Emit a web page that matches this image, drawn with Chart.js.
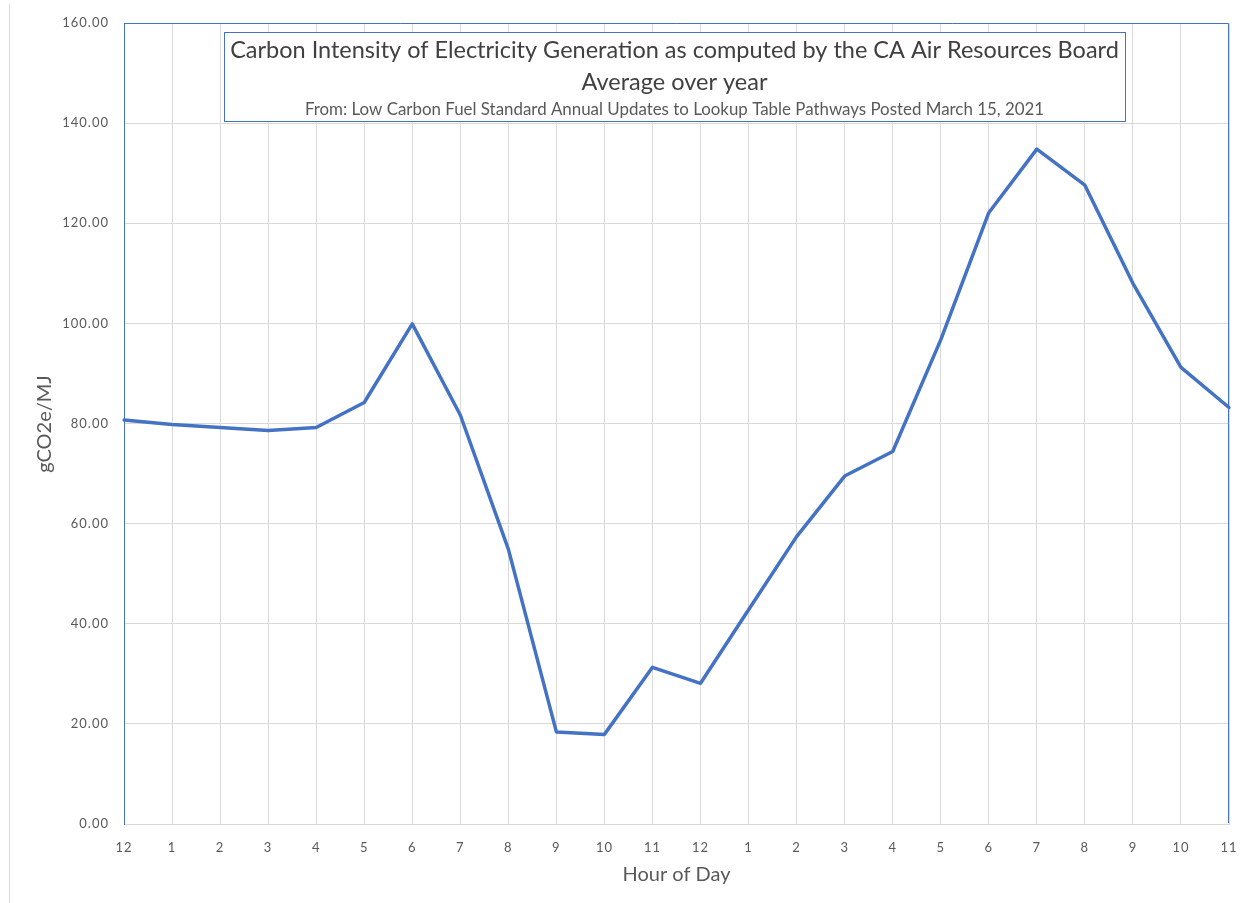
<!DOCTYPE html>
<html>
<head>
<meta charset="utf-8">
<title>Carbon Intensity of Electricity Generation</title>
<script src="https://cdn.jsdelivr.net/npm/chart.js@4/dist/chart.umd.min.js"></script>
<style>
  html, body { margin: 0; padding: 0; background: #ffffff; }
  #wrap { width: 1241px; height: 903px; position: relative; }
  canvas { display: block; }
</style>
</head>
<body>
<div id="wrap"><canvas id="chart" width="1241" height="903"></canvas></div>
<script>
// Hour-of-day labels (midnight through 11 pm)
const hourLabels = ['12', '1', '2', '3', '4', '5', '6', '7', '8', '9', '10', '11',
                    '12', '1', '2', '3', '4', '5', '6', '7', '8', '9', '10', '11'];

// Average carbon intensity per hour, gCO2e/MJ
const carbonIntensity = [80.7, 79.8, 79.2, 78.6, 79.2, 84.2, 99.9, 81.7, 54.9, 18.4, 17.9, 31.3,
                         28.1, 42.8, 57.4, 69.5, 74.4, 96.7, 122.1, 134.8, 127.6, 108.0, 91.2, 83.2];

// Value axis range
const yMin = 0;
const yMax = 160;
const yStep = 20;

// Titles
const titleLines = [
  'Carbon Intensity of Electricity Generation as computed by the CA Air Resources Board',
  'Average over year',
  'From: Low Carbon Fuel Standard Annual Updates to Lookup Table Pathways Posted March 15, 2021'
];
const xAxisTitle = 'Hour of Day';
const yAxisTitle = 'gCO2e/MJ';

const FONT = 'Lato, "Open Sans", sans-serif';
const BLUE = '#4472C4';
const GRID = '#d9d9d9';
const TICK = '#595959';

// Draws text scaled so it spans the requested width
function fitText(ctx, text, cx, cy, width, baseSize, color) {
  ctx.font = baseSize + 'px ' + FONT;
  const w = ctx.measureText(text).width;
  const size = baseSize * width / w;
  ctx.font = size + 'px ' + FONT;
  ctx.fillStyle = color;
  ctx.textAlign = 'center';
  ctx.textBaseline = 'middle';
  ctx.fillText(text, cx, cy);
}

const frame = {
  id: 'frame',
  beforeDraw(chart) {
    const ctx = chart.ctx;
    ctx.save();
    ctx.fillStyle = '#ffffff';
    ctx.fillRect(0, 0, chart.width, chart.height);
    // faint outer chart edge
    ctx.strokeStyle = '#d9d9d9';
    ctx.lineWidth = 1;
    ctx.beginPath();
    ctx.moveTo(9.5, 4);
    ctx.lineTo(9.5, chart.height);
    ctx.stroke();
    ctx.restore();
    // spaced-out tick labels
    ctx.letterSpacing = '1px';
  },
  beforeDatasetsDraw(chart) {
    const ctx = chart.ctx;
    ctx.letterSpacing = '0px';
    const a = chart.chartArea;
    ctx.save();
    ctx.strokeStyle = BLUE;
    ctx.lineWidth = 1;
    ctx.beginPath();
    ctx.moveTo(Math.round(a.left) + 0.5, Math.round(a.bottom) - 1);
    ctx.lineTo(Math.round(a.left) + 0.5, Math.round(a.top) + 0.5);
    ctx.lineTo(Math.round(a.right) - 0.5, Math.round(a.top) + 0.5);
    ctx.lineTo(Math.round(a.right) - 0.5, Math.round(a.bottom) - 1);
    ctx.stroke();
    ctx.restore();
  },
  afterDraw(chart) {
    const ctx = chart.ctx;
    ctx.letterSpacing = '0px';
    const a = chart.chartArea;
    ctx.save();
    // title box
    const bx = 224, by = 32, bw = 901, bh = 89;
    ctx.fillStyle = '#ffffff';
    ctx.fillRect(bx, by, bw, bh);
    ctx.strokeStyle = BLUE;
    ctx.lineWidth = 1;
    ctx.strokeRect(bx + 0.5, by + 0.5, bw, bh);
    const cx = bx + bw / 2;
    fitText(ctx, titleLines[0], cx, 50, 889, 22, '#404040');
    fitText(ctx, titleLines[1], cx, 82, 186, 20, '#404040');
    fitText(ctx, titleLines[2], cx, 110, 740, 14, '#595959');

    // axis titles
    ctx.font = '20px ' + FONT;
    ctx.fillStyle = '#595959';
    ctx.textAlign = 'center';
    ctx.textBaseline = 'middle';
    ctx.fillText(xAxisTitle, (a.left + a.right) / 2, 875);

    ctx.translate(45, 424);
    ctx.rotate(-Math.PI / 2);
    ctx.fillText(yAxisTitle, 0, 0);
    ctx.restore();
  }
};

new Chart(document.getElementById('chart'), {
  type: 'line',
  data: {
    labels: hourLabels,
    datasets: [{
      label: 'Carbon intensity',
      data: carbonIntensity,
      borderColor: BLUE,
      borderWidth: 3.5,
      pointRadius: 0,
      pointHoverRadius: 0,
      tension: 0,
      fill: false,
      borderJoinStyle: 'round',
      borderCapStyle: 'round'
    }]
  },
  options: {
    responsive: false,
    devicePixelRatio: 1,
    animation: false,
    layout: { padding: { left: 0, right: 12, top: 23, bottom: 0 } },
    plugins: {
      legend: { display: false },
      title: { display: false },
      tooltip: { enabled: false }
    },
    scales: {
      x: {
        type: 'category',
        offset: false,
        grid: { color: GRID, lineWidth: 1, drawTicks: false },
        border: { display: true, color: GRID, width: 1 },
        ticks: {
          color: TICK,
          font: { family: FONT, size: 13 },
          padding: 16,
          maxRotation: 0,
          autoSkip: false
        },
        afterFit(s) {
          s.height = 79;
          s.paddingLeft = 0;
          s.paddingRight = 0;
        }
      },
      y: {
        min: yMin,
        max: yMax,
        grid: { color: GRID, lineWidth: 1, drawTicks: false },
        border: { display: true, color: BLUE, width: 1 },
        ticks: {
          stepSize: yStep,
          color: TICK,
          font: { family: FONT, size: 13 },
          padding: 15,
          callback: v => Number(v).toFixed(2)
        },
        afterFit(s) {
          s.width = 124;
          s.paddingTop = 0;
          s.paddingBottom = 0;
        }
      }
    }
  },
  plugins: [frame]
});
</script>
</body>
</html>
